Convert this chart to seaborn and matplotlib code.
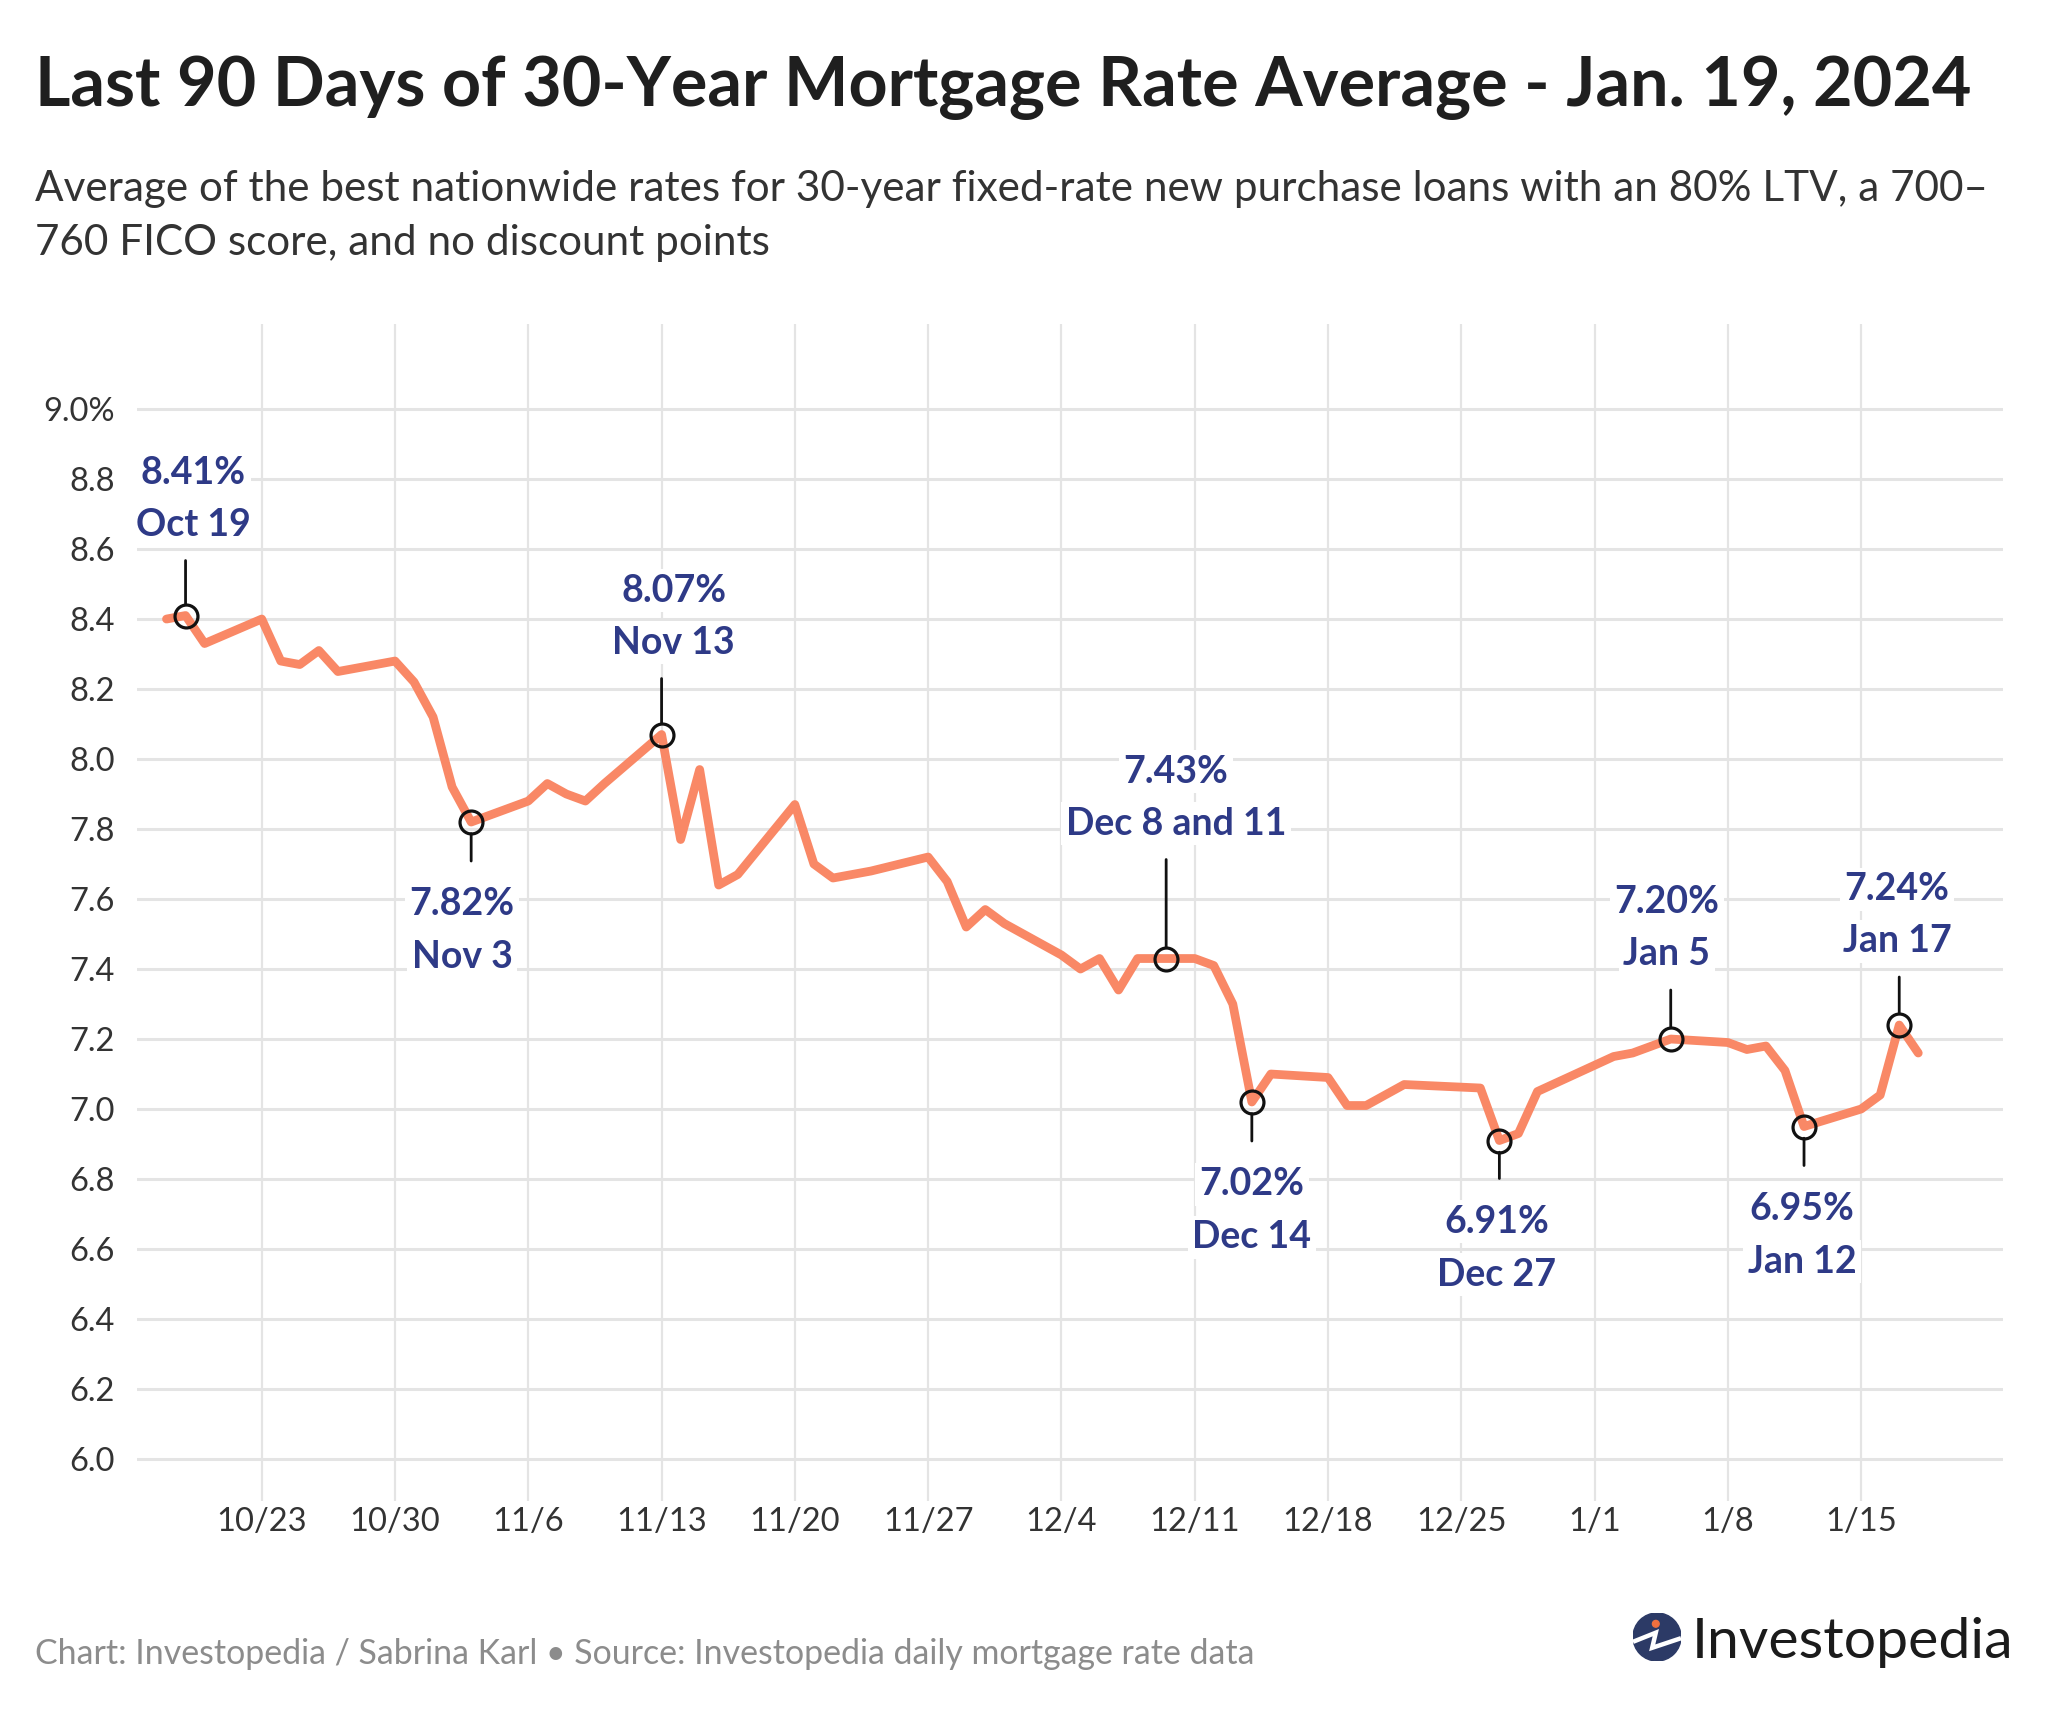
import numpy as np
import pandas as pd
import matplotlib
matplotlib.use("Agg")
import matplotlib.pyplot as plt
import seaborn as sns
from matplotlib.patches import Circle

# ---------------- data ----------------
dates = ["2023-10-18", "2023-10-19", "2023-10-20", "2023-10-23", "2023-10-24", "2023-10-25",
         "2023-10-26", "2023-10-27", "2023-10-30", "2023-10-31", "2023-11-01", "2023-11-02",
         "2023-11-03", "2023-11-06", "2023-11-07", "2023-11-08", "2023-11-09", "2023-11-10",
         "2023-11-13", "2023-11-14", "2023-11-15", "2023-11-16", "2023-11-17", "2023-11-20",
         "2023-11-21", "2023-11-22", "2023-11-24", "2023-11-27", "2023-11-28", "2023-11-29",
         "2023-11-30", "2023-12-01", "2023-12-04", "2023-12-05", "2023-12-06", "2023-12-07",
         "2023-12-08", "2023-12-11", "2023-12-12", "2023-12-13", "2023-12-14", "2023-12-15",
         "2023-12-18", "2023-12-19", "2023-12-20", "2023-12-21", "2023-12-22", "2023-12-26",
         "2023-12-27", "2023-12-28", "2023-12-29", "2024-01-02", "2024-01-03", "2024-01-04",
         "2024-01-05", "2024-01-08", "2024-01-09", "2024-01-10", "2024-01-11", "2024-01-12",
         "2024-01-15", "2024-01-16", "2024-01-17", "2024-01-18"]
rates = [8.40, 8.41, 8.33, 8.40, 8.28, 8.27,
         8.31, 8.25, 8.28, 8.22, 8.12, 7.92,
         7.82, 7.88, 7.93, 7.90, 7.88, 7.93,
         8.07, 7.77, 7.97, 7.64, 7.67, 7.87,
         7.70, 7.66, 7.68, 7.72, 7.65, 7.52,
         7.57, 7.53, 7.44, 7.40, 7.43, 7.34,
         7.43, 7.43, 7.41, 7.30, 7.02, 7.10,
         7.09, 7.01, 7.01, 7.04, 7.07, 7.06,
         6.91, 6.93, 7.05, 7.15, 7.16, 7.18,
         7.20, 7.19, 7.17, 7.18, 7.11, 6.95,
         7.00, 7.04, 7.24, 7.16]

ann_dates = [["2023-10-19"], ["2023-11-03"], ["2023-11-13"], ["2023-12-08", "2023-12-11"],
             ["2023-12-14"], ["2023-12-27"], ["2024-01-05"], ["2024-01-12"], ["2024-01-17"]]
ann_rates = [8.41, 7.82, 8.07, 7.43, 7.02, 6.91, 7.20, 6.95, 7.24]
ann_names = ["Oct 19", "Nov 3", "Nov 13", "Dec 8 and 11", "Dec 14", "Dec 27",
             "Jan 5", "Jan 12", "Jan 17"]

y_ticks = [6.0, 6.2, 6.4, 6.6, 6.8, 7.0, 7.2, 7.4, 7.6, 7.8, 8.0, 8.2, 8.4, 8.6, 8.8, 9.0]
x_ticks = ["2023-10-23", "2023-10-30", "2023-11-06", "2023-11-13", "2023-11-20", "2023-11-27",
           "2023-12-04", "2023-12-11", "2023-12-18", "2023-12-25", "2024-01-01", "2024-01-08",
           "2024-01-15"]

title = "Last 90 Days of 30-Year Mortgage Rate Average - Jan. 19, 2024"
subtitle1 = "Average of the best nationwide rates for 30-year fixed-rate new purchase loans with an 80% LTV, a 700\u2013"
subtitle2 = "760 FICO score, and no discount points"
footer = "Chart: Investopedia / Sabrina Karl \u2022 Source: Investopedia daily mortgage rate data"
brand = "Investopedia"

# ---------------- layout / style (not data) ----------------
ann_side = [1, -1, 1, 1, -1, -1, 1, -1, 1]          # 1 = label above, -1 = below
ann_leader_px = [55, 39, 56, 99, 39, 38, 49, 39, 48]
ann_dx_px = [8, -9, 12, 10, 0, -3, -4, -2, -2]

W, H, DPI = 2046, 1716, 100
PX = DPI / 72.0  # pixels per point

LINE_COLOR = "#f98866"
NAVY = "#2e3a87"
GRID = "#e4e4e4"

sns.set_theme(style="white")
plt.rcParams["font.family"] = ["Lato", "DejaVu Sans"]

df = pd.DataFrame({"date": pd.to_datetime(dates), "rate": rates})

fig = plt.figure(figsize=(W / DPI, H / DPI), dpi=DPI)
fig.patch.set_facecolor("white")
ax = fig.add_axes([137 / W, (H - 1501) / H, (2003 - 137) / W, (1501 - 324) / H])
ax.set_facecolor("white")

sns.lineplot(data=df, x="date", y="rate", ax=ax, color=LINE_COLOR, linewidth=6.3,
             solid_capstyle="round", solid_joinstyle="round", zorder=3)

x0 = pd.Timestamp("2023-10-23")
ax.set_xlim(x0 - pd.Timedelta(days=6.55), x0 + pd.Timedelta(days=91.45))
ax.set_ylim(5.88, 9.243)

ax.set_yticks(y_ticks)
ax.set_yticklabels([f"{t:.1f}%" if i == len(y_ticks) - 1 else f"{t:.1f}"
                    for i, t in enumerate(y_ticks)])
xt = pd.to_datetime(x_ticks)
ax.set_xticks(xt)
ax.set_xticklabels([f"{d.month}/{d.day}" for d in xt])

ax.tick_params(axis="both", length=0, labelsize=23.5, labelcolor="#333333")
ax.tick_params(axis="y", pad=15.8)
ax.tick_params(axis="x", pad=4.5)
ax.set_xlabel("")
ax.set_ylabel("")
for s in ax.spines.values():
    s.set_visible(False)
ax.set_axisbelow(True)
ax.grid(axis="y", color=GRID, linewidth=2.2)
ax.grid(axis="x", color=GRID, linewidth=1.6)

# ---------------- annotations ----------------
for dl, r, name, side, L, dx in zip(ann_dates, ann_rates, ann_names, ann_side,
                                     ann_leader_px, ann_dx_px):
    ds = pd.to_datetime(dl)
    d = ds[0] + (ds[-1] - ds[0]) / 2
    ax.plot([d], [r], "o", ms=16.5, mfc="none", mec="#111111", mew=2.3, zorder=6)
    ax.annotate("", xy=(d, r), xytext=(0, side * L / PX), textcoords="offset points",
                arrowprops=dict(arrowstyle="-", color="#111111", lw=2.0,
                                shrinkA=0, shrinkB=8.4), zorder=5, annotation_clip=False)
    if side > 0:
        offs = [(L + 25 + 52), (L + 25)]
    else:
        offs = [-(L + 54), -(L + 107)]
    for txt, oy in zip([f"{r:.2f}%", name], offs):
        ax.annotate(txt, xy=(d, r), xytext=(dx / PX, oy / PX), textcoords="offset points",
                    ha="center", va="baseline", fontsize=27, fontweight="bold", color=NAVY,
                    bbox=dict(boxstyle="square,pad=0.12", fc="white", ec="none"),
                    zorder=7, annotation_clip=False)

# ---------------- titles / footer ----------------
renderer = fig.canvas.get_renderer()


def fit(t, width_px):
    w = t.get_window_extent(renderer=renderer).width
    t.set_fontsize(t.get_fontsize() * width_px / w)


t_title = fig.text(35 / W, 1 - 106 / H, title, fontsize=48, fontweight="bold",
                   color="#1f1f1f", ha="left", va="baseline")
fit(t_title, 1935)

t_sub1 = fig.text(35 / W, 1 - 201 / H, subtitle1, fontsize=28, color="#333333",
                  ha="left", va="baseline")
fit(t_sub1, 1955)
fig.text(35 / W, 1 - 255 / H, subtitle2, fontsize=t_sub1.get_fontsize(), color="#333333",
         ha="left", va="baseline")

t_foot = fig.text(35 / W, 1 - 1664 / H, footer, fontsize=23, color="#8c8c8c",
                  ha="left", va="baseline")
fit(t_foot, 1224)

t_brand = fig.text(1692 / W, 1 - 1658 / H, brand, fontsize=40, color="#1b1b1b",
                   ha="left", va="baseline")
fit(t_brand, 321)

# logo icon
iax = fig.add_axes([(1657 - 24) / W, (H - 1637 - 24) / H, 48 / W, 48 / H])
iax.set_xlim(-1, 1)
iax.set_ylim(-1, 1)
iax.set_aspect("equal")
iax.axis("off")
iax.add_patch(Circle((0, 0), 1, color="#2c3a66"))
iax.plot([-1.0, -0.05, -0.2, 1.0], [-0.2, 0.18, -0.45, -0.05], color="white", lw=3.2,
         solid_joinstyle="miter", solid_capstyle="butt", clip_on=True)
iax.add_patch(Circle((-0.05, 0.55), 0.14, color="#f0703f"))

fig.savefig("out.png", dpi=DPI, facecolor="white")
